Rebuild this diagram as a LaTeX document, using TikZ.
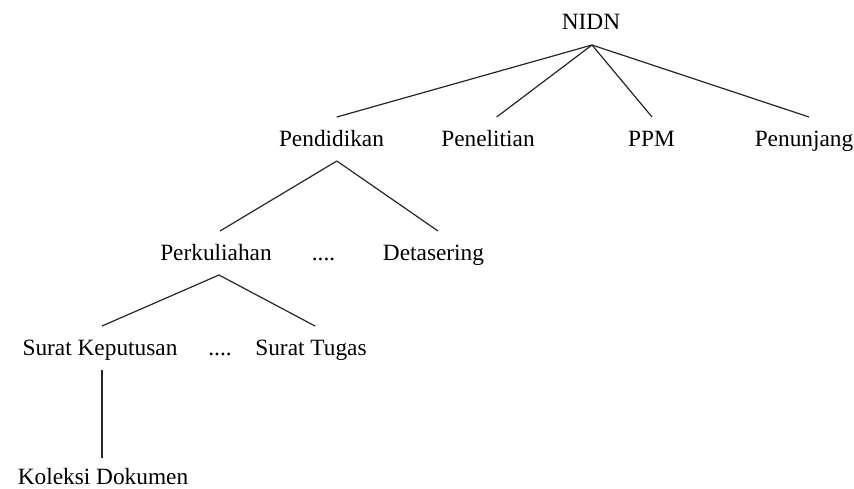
\documentclass[tikz,border=0pt]{standalone}
\usepackage{fontspec}
\setmainfont{Liberation Serif}
\begin{document}
\begin{tikzpicture}[x=0.75pt, y=-0.75pt,
  lbl/.style={anchor=base, font=\fontsize{17.5}{20}\selectfont,
    text height=14.5pt, text depth=4pt, inner xsep=0pt, inner ysep=7.25pt,
    outer sep=0pt},
  link/.style={draw=black!85, line width=0.9pt}]
\useasboundingbox (0,0) rectangle (854,489);

% level 0
\node[lbl] (nidn) at (591,30) {NIDN};
% level 1
\node[lbl] (pend) at (331.5,146) {Pendidikan};
\node[lbl] (pene) at (488,146) {Penelitian};
\node[lbl] (ppm)  at (651.5,146) {PPM};
\node[lbl] (penu) at (804,146) {Penunjang};
% level 2
\node[lbl] (kul)  at (216,260) {Perkuliahan};
\node[lbl] (dotsA) at (323.5,260) {....};
\node[lbl] (det)  at (433.5,260) {Detasering};
% level 3
\node[lbl] (sk)   at (100,355) {Surat Keputusan};
\node[lbl] (dotsB) at (220,355) {....};
\node[lbl] (st)   at (311,355) {Surat Tugas};
% level 4
\node[lbl] (kol)  at (103,484) {Koleksi Dokumen};

% connectors
\draw[link] ([xshift=0.75pt]nidn.south) -- ([xshift=4pt]pend.north);
\draw[link] ([xshift=0.75pt]nidn.south) -- ([xshift=6.5pt]pene.north);
\draw[link] ([xshift=0.75pt]nidn.south) -- ([xshift=0.4pt]ppm.north);
\draw[link] ([xshift=0.75pt]nidn.south) -- ([xshift=3.75pt]penu.north);

\draw[link] ([xshift=4pt]pend.south) -- ([xshift=3pt]kul.north);
\draw[link] ([xshift=4pt]pend.south) -- ([xshift=3.4pt]det.north);

\draw[link] ([xshift=2.25pt]kul.south) -- ([xshift=1.5pt]sk.north);
\draw[link] ([xshift=2.25pt]kul.south) -- ([xshift=3pt]st.north);

\draw[link] ([xshift=1.5pt]sk.south) -- ([xshift=-0.75pt,yshift=-2.25pt]kol.north);
\end{tikzpicture}
\end{document}
